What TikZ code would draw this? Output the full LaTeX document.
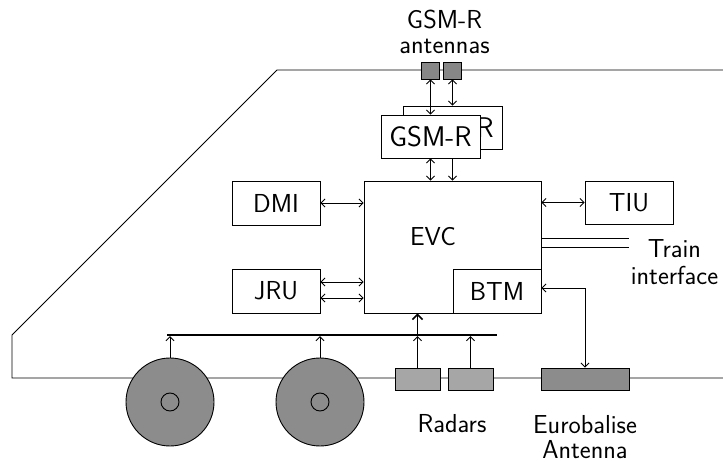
\documentclass[tikz,border=0pt]{standalone}
\usepackage{fontspec}
\usetikzlibrary{arrows.meta}
\definecolor{wheelgray}{HTML}{8C8C8C}
\definecolor{antgray}{HTML}{878787}
\definecolor{radargray}{HTML}{A6A6A6}
\definecolor{balisegray}{HTML}{8C8C8C}
\begin{document}
\begin{tikzpicture}[x=1pt,y=-1pt,
  txt/.style={font=\sffamily\fontsize{26}{26}\selectfont},
  unit/.style={txt, draw, fill=white, line width=0.9pt, minimum width=88pt,
    minimum height=44pt, inner sep=0pt},
  gsmbox/.style={unit, minimum width=99pt, minimum height=43pt,
    font=\sffamily\fontsize{28.5}{30}\selectfont},
  antenna/.style={draw, fill=antgray, line width=0.9pt, minimum width=18pt,
    minimum height=17pt, inner sep=0pt},
  radar/.style={draw, fill=radargray, line width=0.9pt, minimum width=45pt,
    minimum height=22pt, inner sep=0pt},
  wheel/.style={circle, draw, fill=wheelgray, line width=0.9pt,
    minimum size=88pt, inner sep=0pt},
  hub/.style={circle, draw, fill=wheelgray, line width=0.9pt,
    minimum size=18pt, inner sep=0pt},
  tip/.tip={Straight Barb[length=4pt,width=8pt]},
  link/.style={line width=0.8pt, tip-tip},
  sense/.style={line width=0.8pt, -tip},
  label/.style={txt, inner sep=0pt, align=center},
]
\useasboundingbox (0,0) rectangle (723,462);

% train body outline
\draw[line width=0.9pt] (723,70) -- (277,70) -- (12,335) -- (12,378) -- (723,378);

% wheels
\node[wheel] (w1) at (170,402) {};
\node[hub] (h1) at (w1.center) {};
\node[wheel] (w2) at (320,402) {};
\node[hub] (h2) at (w2.center) {};

% track-side sensors
\node[radar] (r1) at (417.5,379) {};
\node[radar] (r2) at (470.5,379) {};
\node[radar, fill=balisegray, minimum width=88pt] (euro) at (585,379) {};

% GSM-R antennas on the roof
\node[antenna] (a1) at (430.5,70.5) {};
\node[antenna] (a2) at (452.5,70.5) {};

% on-board units
\node[draw, fill=white, line width=0.9pt, minimum width=177pt,
  minimum height=132pt] (evc) at (452.5,247) {};
\node[txt] (evctext) at (433,237) {EVC};
\node[unit] (btm) at (497,291) {BTM};
\node[unit] (dmi) at (276,203) {DMI};
\node[unit] (jru) at (276,291) {JRU};
\node[unit, minimum height=43pt] (tiu) at (629,202.5) {TIU};

% sensor bus
\coordinate (busL) at (167,335);
\coordinate (busR) at (497,335);
\draw[line width=2.2pt] (busL) -- (busR);
\draw[sense, shorten >=1.2pt] (w1.north) -- (w1.north |- busL);
\draw[sense, shorten >=1.2pt] (w2.north) -- (w2.north |- busL);
\draw[sense, shorten >=1.2pt] (r1.north) -- (r1.north |- busL);
\draw[sense, shorten >=1.2pt] (r2.north) -- (r2.north |- busL);
\draw[line width=1.6pt, -{Straight Barb[length=5pt,width=10pt]}]
  (r1.north |- busL) -- (r1.north |- evc.south);

% EVC links
\draw[link] (dmi.east) -- (dmi.east -| evc.west);
\coordinate (j1) at ([yshift=9pt]jru.east);
\coordinate (j2) at ([yshift=-7pt]jru.east);
\draw[link] (j1) -- (j1 -| evc.west);
\draw[link] (j2) -- (j2 -| evc.west);
\draw[link] (tiu.west -| evc.east) -- (tiu.west);
\coordinate (b1) at ([yshift=3pt]btm.east);
\draw[link] (b1) -| (euro.north);

% train interface
\coordinate (tiA) at (629,238);
\coordinate (tiB) at (629,247);
\draw[line width=0.9pt] (tiA -| evc.east) -- (tiA);
\draw[line width=0.9pt] (tiB -| evc.east) -- (tiB);
\node[label, anchor=north, font=\sffamily\fontsize{26}{27}\selectfont]
  (tilabel) at (674.5,239) {Train\\interface};

% GSM-R radios
\node[gsmbox] (gsmb) at (452.5,127.5) {GSM-R};
\draw[link] (a2.south) -- (a2.south |- gsmb.north);
\draw[link] (gsmb.south) -- (gsmb.south |- evc.north);
\node[gsmbox] (gsmf) at (430.5,136.5) {GSM-R};
\draw[link] (a1.south) -- (a1.south |- gsmf.north);
\draw[link] (gsmf.south) -- (gsmf.south |- evc.north);

% labels
\node[label, anchor=north, font=\sffamily\fontsize{26}{25}\selectfont]
  (antlabel) at (444.5,10) {GSM-R\\antennas};
\node[label, anchor=base] (radlabel) at (452,432) {Radars};
\node[label, anchor=north, font=\sffamily\fontsize{26}{25}\selectfont]
  (eurolabel) at (585,415) {Eurobalise\\Antenna};
\end{tikzpicture}
\end{document}
